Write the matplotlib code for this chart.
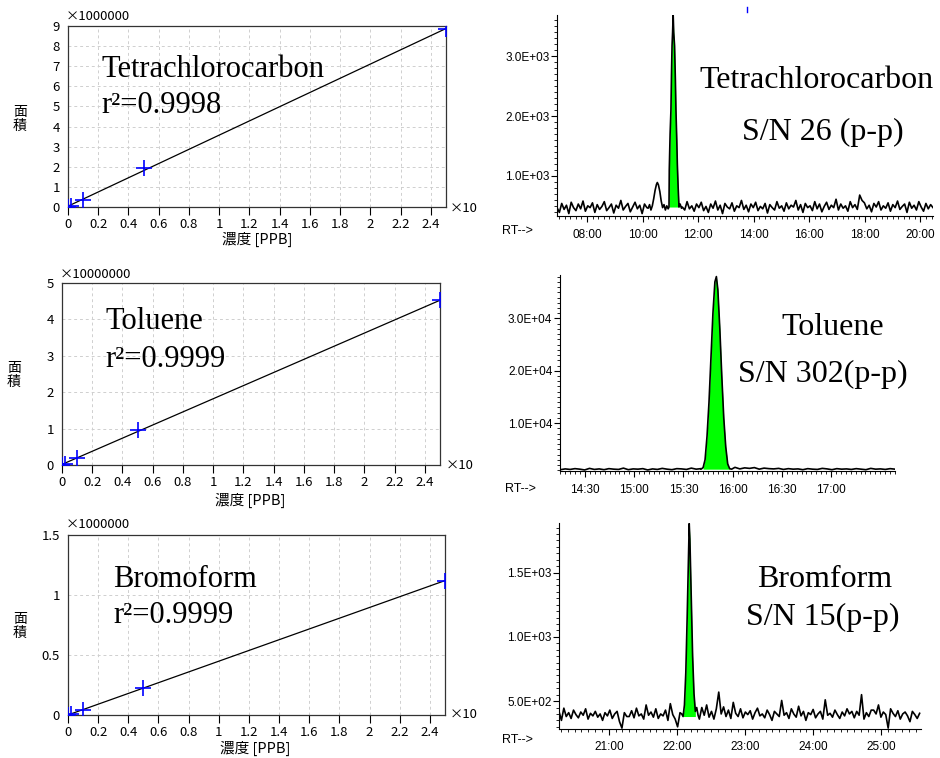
import numpy as np
import matplotlib
matplotlib.use("Agg")
import matplotlib.pyplot as plt
from matplotlib.ticker import MultipleLocator
from matplotlib.lines import Line2D

plt.rcParams['font.family'] = ['Noto Sans CJK JP', 'DejaVu Sans']

W, H = 940, 758

# ---- calibration curves (concentration x10 ppb vs area) ----
conc = [0, 0.02, 0.1, 0.5, 2.5]
area_ccl4 = [0, 0.07, 0.37, 1.94, 8.85]          # x1000000
area_toluene = [0, 0.04, 0.20, 0.95, 4.52]       # x10000000
area_bromoform = [0, 0.01, 0.045, 0.225, 1.12]   # x1000000

conc_ticks = [0, 0.2, 0.4, 0.6, 0.8, 1, 1.2, 1.4, 1.6, 1.8, 2, 2.2, 2.4]
conc_ticklabels = ["0", "0.2", "0.4", "0.6", "0.8", "1", "1.2", "1.4", "1.6",
                   "1.8", "2", "2.2", "2.4"]

# ---- chromatograms (RT in minutes) ----
# tetrachlorocarbon
c1_base = [470, 390, 540, 440, 510, 370, 560, 470, 420, 530, 450, 580, 410, 500, 470, 550, 390, 520, 440, 490,
           570, 420, 470, 530, 380, 510, 460, 590, 430, 490, 540, 400, 480, 560, 450, 510, 370, 530, 470, 440,
           490, 450, 510, 470, 530, 440, 500, 410, 550, 460, 510, 390, 540, 480, 430, 570, 450, 500, 410, 530,
           470, 560, 420, 490, 390, 530, 460, 580, 430, 510, 370, 540, 480, 450, 550, 410, 500, 470, 590, 440,
           510, 400, 530, 470, 560, 420, 490, 450, 540, 380, 520, 470, 430, 570, 460, 500, 410, 550, 450, 510,
           480, 590, 430, 520, 390, 540, 470, 500, 420, 570, 450, 530, 400, 490, 560, 440, 510, 470, 610, 430,
           530, 460, 500, 410, 570, 470, 520, 440, 680, 590, 550, 450, 510, 400, 540, 480, 570, 430, 500, 460,
           550, 410, 520, 470, 580, 440, 490, 530, 390, 560, 460, 510, 430, 570, 480, 410, 540, 450, 520, 470]
c1_peak_t = [10.20, 10.25, 10.30, 10.35, 10.40, 10.45, 10.50, 10.53, 10.57, 10.62, 10.67, 10.72, 10.77,
             10.82, 10.87, 10.92, 10.95, 10.96, 10.99, 11.02, 11.04, 11.06, 11.08, 11.10, 11.12, 11.15,
             11.18, 11.20, 11.23, 11.25, 11.28, 11.31, 11.35, 11.40]
c1_peak_y = [460, 520, 430, 500, 620, 760, 860, 890, 850, 740, 580, 470, 520,
             430, 500, 450, 480, 1100, 1700, 2100, 2700, 3180, 3400, 3700, 3400, 3180,
             2600, 2100, 1600, 1200, 800, 480, 530, 460]
c1_xticks = [8, 10, 12, 14, 16, 18, 20]
c1_xlabels = ["08:00", "10:00", "12:00", "14:00", "16:00", "18:00", "20:00"]
c1_yticks = [1000, 2000, 3000]
c1_ylabels = ["1.0E+03", "2.0E+03", "3.0E+03"]

# toluene
c2_base = [1100, 1250, 1150, 1300, 1200, 1050, 1350, 1150, 1250, 1100, 1300, 1200, 1150, 1400, 1100, 1250, 1200, 1300, 1050, 1250,
           1150, 1350, 1200, 1100, 1300, 1250, 1150, 1400, 1200, 1300, 1100, 1250, 1500, 1350, 1600, 1300, 1550, 1250, 1450, 1350,
           1500, 1200, 1400, 1300, 1250, 1350, 1150, 1300, 1200, 1250, 1100, 1300, 1200, 1150, 1350, 1250, 1100, 1300, 1200, 1250,
           1150, 1300, 1200, 1100, 1350, 1200, 1250, 1150, 1300, 1200]
c2_peak_t = [15.68, 15.70, 15.72, 15.74, 15.76, 15.78, 15.80, 15.82, 15.835, 15.85, 15.87, 15.89, 15.91,
             15.93, 15.95, 15.97, 15.99]
c2_peak_y = [1200, 1500, 3000, 7500, 14000, 22500, 31000, 37000, 38000, 35500, 28000, 19000, 11000,
             5500, 2200, 1300, 1200]
c2_xticks = [14.5, 15, 15.5, 16, 16.5, 17]
c2_xlabels = ["14:30", "15:00", "15:30", "16:00", "16:30", "17:00"]
c2_yticks = [10000, 20000, 30000]
c2_ylabels = ["1.0E+04", "2.0E+04", "3.0E+04"]

# bromoform
c3_base = [420, 350, 445, 380, 410, 365, 430, 395, 370, 415, 390, 440, 360, 405, 385, 420, 375, 400, 350, 410,
           385, 430, 365, 400, 420, 340, 290, 410, 380, 380, 425, 370, 445, 385, 400, 360, 470, 390, 415, 375,
           440, 365, 400, 385, 430, 350, 480, 395, 360, 300, 410, 380, 420, 400, 390, 410, 380, 430, 360, 450,
           390, 470, 375, 420, 360, 440, 570, 400, 455, 380, 430, 365, 490, 405, 380, 440, 370, 415, 395, 425,
           360, 410, 445, 385, 400, 370, 430, 395, 350, 420, 400, 380, 505, 390, 410, 365, 440, 400, 375, 460,
           385, 420, 350, 410, 395, 435, 370, 400, 420, 360, 510, 390, 405, 375, 430, 395, 365, 415, 385, 440,
           400, 420, 370, 420, 390, 550, 360, 410, 380, 430, 430, 400, 470, 375, 415, 395, 290, 440, 405, 380,
           425, 360, 400, 415, 385, 340, 420, 395, 365, 405]
c3_peak_t = [22.07, 22.09, 22.11, 22.13, 22.15, 22.17, 22.18, 22.19, 22.21, 22.23, 22.25, 22.27, 22.29, 22.31]
c3_peak_y = [400, 380, 470, 720, 1150, 1650, 1880, 1760, 1300, 850, 560, 420, 450, 390]
c3_xticks = [21, 22, 23, 24, 25]
c3_xlabels = ["21:00", "22:00", "23:00", "24:00", "25:00"]
c3_yticks = [500, 1000, 1500]
c3_ylabels = ["5.0E+02", "1.0E+03", "1.5E+03"]


def fx(px):
    return px / W


def fy(py):
    return 1 - py / H


def add_ax(l, t, r, b):
    return fig.add_axes([l / W, 1 - b / H, (r - l) / W, (b - t) / H])


fig = plt.figure(figsize=(9.4, 7.58), dpi=100)
serif = 'Liberation Serif'
sans = 'Liberation Sans'


def calib(box, area, ymax, yticks, ylabels, mult, name, r2, name_xy, r2_xy,
          mult_xy, x10_xy, ylab_xy, xlab_xy):
    ax = add_ax(*box)
    ax.plot(conc, area, ls='none', marker='+', ms=11, mew=1.2, color='#0000ff', zorder=3)
    k, c = np.polyfit(conc, area, 1)
    xs = np.array([conc[0], conc[-1]])
    ax.plot(xs, k * xs + c, color='black', lw=0.9, zorder=2)
    ax.set_xlim(0, 2.5)
    ax.set_ylim(0, ymax)
    ax.set_xticks(conc_ticks)
    ax.set_xticklabels(conc_ticklabels, fontsize=9.5)
    ax.set_yticks(yticks)
    ax.set_yticklabels(ylabels, fontsize=9.5)
    ax.tick_params(axis='x', direction='out', length=6, width=0.8, pad=2)
    ax.tick_params(axis='y', length=0, pad=6)
    ax.grid(True, color='#cfcfcf', ls=(0, (3, 3)), lw=0.7)
    for s in ax.spines.values():
        s.set_linewidth(0.9)
        s.set_color('#333333')
    fig.text(fx(name_xy[0]), fy(name_xy[1]), name, family=serif, fontsize=22, va='baseline')
    fig.text(fx(r2_xy[0]), fy(r2_xy[1]), r2, family=serif, fontsize=22, va='baseline')
    fig.text(fx(mult_xy[0]), fy(mult_xy[1]), mult, fontsize=9.5, va='center')
    fig.text(fx(x10_xy[0]), fy(x10_xy[1]), "×10", fontsize=9.5, va='center')
    fig.text(fx(ylab_xy[0]), fy(ylab_xy[1]), "面\n積", fontsize=10, ha='center', va='center',
             linespacing=1.0)
    fig.text(fx(xlab_xy[0]), fy(xlab_xy[1]), "濃度 [PPB]", fontsize=10.5, ha='center', va='center')


calib((68, 26, 446, 207), area_ccl4, 9, list(range(10)), [str(i) for i in range(10)],
      "×1000000", "Tetrachlorocarbon", "r²=0.9998", (101, 77), (101, 113),
      (66, 16), (450, 208), (20, 119), (257, 239))
calib((62, 283, 440, 465), area_toluene, 5, list(range(6)), [str(i) for i in range(6)],
      "×10000000", "Toluene", "r²=0.9999", (105, 329), (105, 367),
      (60, 274), (446, 465), (14, 375), (250, 500))
calib((68, 535, 445, 715), area_bromoform, 1.5, [0, 0.5, 1, 1.5], ["0", "0.5", "1", "1.5"],
      "×1000000", "Bromoform", "r²=0.9999", (113, 587), (113, 623),
      (66, 524), (450, 715), (20, 626), (255, 748))


def chrom(box, base, t0, t1, pk_t, pk_y, fill_rng, fill_base, xlim, ylim,
          xticks, xlabels, yticks, ylabels, xminor, yminor, rt_xy, name, sn, name_xy, sn_xy):
    ax = add_ax(*box)
    bt = np.linspace(t0, t1, len(base))
    by = np.array(base)
    pt = np.array(pk_t)
    py = np.array(pk_y)
    keep = (bt < pt[0]) | (bt > pt[-1])
    t = np.concatenate([bt[keep], pt])
    y = np.concatenate([by[keep], py])
    order = np.argsort(t)
    sel = (pt >= fill_rng[0]) & (pt <= fill_rng[1])
    ax.fill_between(pt[sel], py[sel], fill_base, color='#00ff00', lw=0, zorder=1)
    ax.plot(t[order], y[order], color='black', lw=1.2, zorder=2)
    ax.set_xlim(*xlim)
    ax.set_ylim(*ylim)
    ax.set_xticks(xticks)
    ax.set_xticklabels(xlabels, family=sans, fontsize=8.5)
    ax.set_yticks(yticks)
    ax.set_yticklabels(ylabels, family=sans, fontsize=8.5)
    ax.xaxis.set_minor_locator(MultipleLocator(xminor))
    ax.yaxis.set_minor_locator(MultipleLocator(yminor))
    ax.tick_params(which='major', direction='out', length=4, width=0.8, pad=1.5)
    ax.tick_params(axis='x', which='major', pad=5)
    ax.tick_params(which='minor', direction='out', length=2.2, width=0.6)
    ax.spines['top'].set_visible(False)
    ax.spines['right'].set_visible(False)
    for s in ('left', 'bottom'):
        ax.spines[s].set_linewidth(0.8)
    fig.text(fx(rt_xy[0]), fy(rt_xy[1]), "RT-->", family=sans, fontsize=9, va='center')
    fig.text(fx(name_xy[0]), fy(name_xy[1]), name, family=serif, fontsize=23,
             ha='center', va='baseline')
    fig.text(fx(sn_xy[0]), fy(sn_xy[1]), sn, family=serif, fontsize=23,
             ha='center', va='baseline')


chrom((557, 15, 933, 216), c1_base, 6.92, 20.45, c1_peak_t, c1_peak_y, (10.95, 11.31), 480,
      (6.92, 20.45), (330, 3690), c1_xticks, c1_xlabels, c1_yticks, c1_ylabels, 0.2, 100,
      (502, 231), "Tetrachlorocarbon", "S/N 26 (p-p)", (816, 88), (823, 140))
chrom((560, 275, 895, 471), c2_base, 14.25, 17.65, c2_peak_t, c2_peak_y, (15.70, 15.97), 1200,
      (14.246, 17.65), (850, 38300), c2_xticks, c2_xlabels, c2_yticks, c2_ylabels, 0.05, 1000,
      (505, 489), "Toluene", "S/N 302(p-p)", (833, 335), (823, 382))
chrom((559, 523, 921, 729), c3_base, 20.27, 25.56, c3_peak_t, c3_peak_y, (22.09, 22.27), 380,
      (20.27, 25.58), (283, 1885), c3_xticks, c3_xlabels, c3_yticks, c3_ylabels, 0.1, 50,
      (502, 740), "Bromform", "S/N 15(p-p)", (825, 587), (823, 625))

# small blue mark above the first chromatogram
fig.add_artist(Line2D([fx(747), fx(747)], [fy(7), fy(12)], color='#0000ff', lw=1))

fig.savefig("out.png", dpi=100)
